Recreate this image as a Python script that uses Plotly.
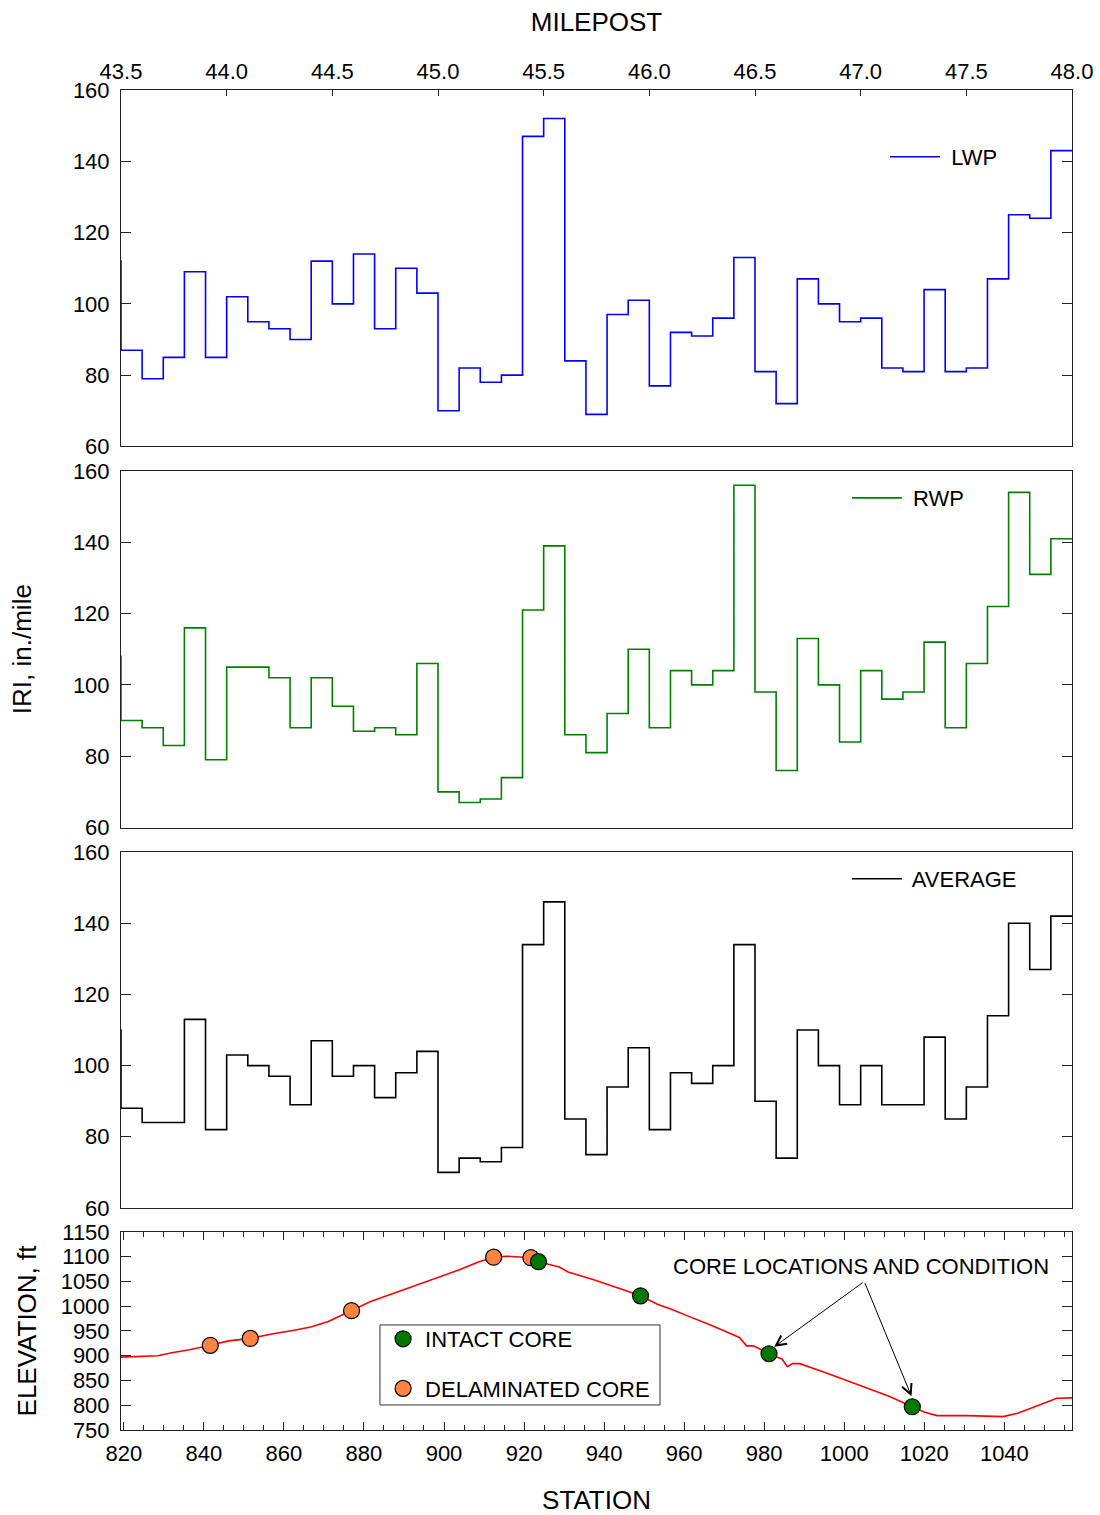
import plotly.graph_objects as go

# Start milepost of each 0.1-mile IRI section (first one is the lead-in section before MP 43.5)
SECTION_MP = [43.4, 43.5, 43.6, 43.7, 43.8, 43.9, 44.0, 44.1, 44.2, 44.3, 44.4, 44.5,
              44.6, 44.7, 44.8, 44.9, 45.0, 45.1, 45.2, 45.3, 45.4, 45.5, 45.6, 45.7,
              45.8, 45.9, 46.0, 46.1, 46.2, 46.3, 46.4, 46.5, 46.6, 46.7, 46.8, 46.9,
              47.0, 47.1, 47.2, 47.3, 47.4, 47.5, 47.6, 47.7, 47.8, 47.9]
SECTION_END_MP = 48.0

# IRI, in./mile per section
IRI_LWP = [112, 87, 79, 85, 109, 85, 102, 95, 93, 90, 112, 100, 114, 93, 110, 103, 70, 82,
           78, 80, 147, 152, 84, 69, 97, 101, 77, 92, 91, 96, 113, 81, 72, 107, 100, 95,
           96, 82, 81, 104, 81, 82, 107, 125, 124, 143]
IRI_RWP = [108, 90, 88, 83, 116, 79, 105, 105, 102, 88, 102, 94, 87, 88, 86, 106, 70, 67,
           68, 74, 121, 139, 86, 81, 92, 110, 88, 104, 100, 104, 156, 98, 76, 113, 100, 84,
           104, 96, 98, 112, 88, 106, 122, 154, 131, 141]
IRI_AVG = [110, 88, 84, 84, 113, 82, 103, 100, 97, 89, 107, 97, 100, 91, 98, 104, 70, 74,
           73, 77, 134, 146, 85, 75, 94, 105, 82, 98, 95, 100, 134, 90, 74, 110, 100, 89,
           100, 89, 89, 108, 85, 94, 114, 140, 127, 142]

# Roadway elevation profile
ELEV_STATION = [819.0, 825.0, 828.5, 832.0, 836.4, 841.6, 846.2, 851.6, 856.9, 862.2,
                866.7, 871.1, 876.9, 881.8, 887.1, 892.4, 896.0, 899.6, 904.0, 908.4,
                912.4, 915.6, 919.1, 921.7, 923.6, 927.4, 928.8, 931.0, 937.2, 943.5,
                949.1, 953.3, 956.8, 961.3, 966.6, 973.8, 975.6, 977.3, 981.2, 984.5,
                985.8, 987.1, 988.9, 995.2, 1004.1, 1011.2, 1017.0, 1020.1, 1023.2,
                1030.8, 1039.7, 1043.3, 1048.6, 1053.1, 1057.5]
ELEV_FT = [897, 899, 900, 906, 912, 921, 930, 935, 944, 951,
           958, 969, 991, 1010, 1025, 1040, 1050, 1061, 1074, 1089,
           1099, 1101, 1100, 1098, 1090, 1081, 1079, 1069, 1054, 1037,
           1021, 1004, 994, 979, 962, 937, 920, 920, 904, 893,
           878, 884, 884, 866, 839, 818, 797, 786, 779,
           779, 777, 784, 800, 814, 815]

# Core locations and condition
INTACT_STATION = [923.6, 949.1, 981.2, 1017.0]
INTACT_ELEV = [1090, 1021, 904, 797]
DELAM_STATION = [841.6, 851.6, 876.9, 912.4, 921.7]
DELAM_ELEV = [921, 935, 991, 1099, 1098]

FONT = "Liberation Sans, Arial, sans-serif"
AXIS_COLOR = "#222222"


def step_xy(values):
    xs = SECTION_MP + [SECTION_END_MP]
    ys = values + [values[-1]]
    return xs, ys


fig = go.Figure()

for vals, name, color, xa, ya, leg in [
    (IRI_LWP, "LWP", "#0000FF", "x", "y", "legend"),
    (IRI_RWP, "RWP", "#008000", "x2", "y2", "legend2"),
    (IRI_AVG, "AVERAGE", "#000000", "x3", "y3", "legend3"),
]:
    xs, ys = step_xy(vals)
    fig.add_trace(go.Scatter(
        x=xs, y=ys, mode="lines", name=" " + name,
        line=dict(color=color, width=1.6, shape="hv"),
        xaxis=xa, yaxis=ya, legend=leg, showlegend=True,
    ))

fig.add_trace(go.Scatter(
    x=ELEV_STATION, y=ELEV_FT, mode="lines", line=dict(color="#FF0000", width=1.6),
    xaxis="x4", yaxis="y4", showlegend=False,
))
fig.add_trace(go.Scatter(
    x=DELAM_STATION, y=DELAM_ELEV, mode="markers", name="DELAMINATED CORE",
    marker=dict(size=16, color="#FF8444", line=dict(color="#000000", width=1.2)),
    xaxis="x4", yaxis="y4", legend="legend4", legendgroup="delam", legendrank=2,
))
fig.add_trace(go.Scatter(
    x=INTACT_STATION, y=INTACT_ELEV, mode="markers", name="INTACT CORE",
    marker=dict(size=16, color="#007800", line=dict(color="#000000", width=1.2)),
    xaxis="x4", yaxis="y4", legend="legend4", legendgroup="intact", legendrank=1,
))

tickfont = dict(family=FONT, size=22, color="#000000")
titlefont = dict(family=FONT, size=26, color="#000000")

iri_y = dict(range=[60, 160], dtick=20, ticks="inside", ticklen=10, tickcolor=AXIS_COLOR,
             showline=True, mirror="ticks", linecolor=AXIS_COLOR, linewidth=1,
             showgrid=False, zeroline=False, tickfont=tickfont, ticklabelstandoff=6,
             automargin=False)
plain_x = dict(range=[43.5, 48.0], showticklabels=False, ticks="", showline=True,
               mirror=True, linecolor=AXIS_COLOR, linewidth=1, showgrid=False,
               zeroline=False, automargin=False)

legend_common = dict(bgcolor="rgba(0,0,0,0)", borderwidth=0,
                     font=dict(family=FONT, size=22, color="#000000"),
                     xanchor="left", yanchor="middle", itemwidth=50)

fig.update_layout(
    width=1100, height=1515,
    margin=dict(l=121, r=28, t=90, b=85, autoexpand=False),
    paper_bgcolor="white", plot_bgcolor="white",
    font=dict(family=FONT, color="#000000"),
    xaxis=dict(domain=[0, 1], anchor="y", side="top", range=[43.5, 48.0], tick0=43.5,
               dtick=0.5, tickformat=".1f", ticks="inside", ticklen=6, tickcolor=AXIS_COLOR,
               showline=True, mirror=True, linecolor=AXIS_COLOR, linewidth=1,
               showgrid=False, zeroline=False, tickfont=tickfont, ticklabelstandoff=1,
               automargin=False,
               title=dict(text="MILEPOST", font=titlefont, standoff=20)),
    yaxis=dict(domain=[0.734, 1.0], anchor="x", **iri_y),
    xaxis2=dict(domain=[0, 1], anchor="y2", **plain_x),
    yaxis2=dict(domain=[0.4496, 0.7157], anchor="x2", **iri_y),
    xaxis3=dict(domain=[0, 1], anchor="y3", **plain_x),
    yaxis3=dict(domain=[0.1657, 0.4313], anchor="x3", **iri_y),
    xaxis4=dict(domain=[0, 1], anchor="y4", range=[819.3, 1056.9], dtick=20, tick0=0,
                ticks="inside", ticklen=8, tickcolor=AXIS_COLOR,
                minor=dict(dtick=5, ticks="inside", ticklen=5, tickcolor=AXIS_COLOR),
                showline=True, mirror="ticks", linecolor=AXIS_COLOR, linewidth=1,
                showgrid=False, zeroline=False, tickfont=tickfont, ticklabelstandoff=4,
                automargin=False,
                title=dict(text="STATION", font=titlefont, standoff=26)),
    yaxis4=dict(domain=[0, 0.1478], anchor="x4", range=[750, 1150], dtick=50,
                ticks="inside", ticklen=10, tickcolor=AXIS_COLOR,
                showline=True, mirror="ticks", linecolor=AXIS_COLOR, linewidth=1,
                showgrid=False, zeroline=False, tickfont=tickfont, ticklabelstandoff=6,
                automargin=False,
                title=dict(text="ELEVATION, ft", font=titlefont, standoff=16)),
    legend=dict(x=0.8034, y=0.950, **legend_common),
    legend2=dict(x=0.7633, y=0.6955, **legend_common),
    legend3=dict(x=0.7633, y=0.4112, **legend_common),
    legend4=dict(x=0.2735, y=0.0836, xanchor="left", yanchor="top",
                 bgcolor="rgba(0,0,0,0)", borderwidth=0, tracegroupgap=18,
                 font=dict(family=FONT, size=22, color="#000000"), itemwidth=34),
    shapes=[
        # frame around the core-condition legend
        dict(type="rect", xref="paper", yref="paper", x0=0.2723, x1=0.5668,
             y0=0.0187, y1=0.0784, line=dict(color="#333333", width=1),
             fillcolor="white", layer="above"),
    ],
    annotations=[
        dict(text="IRI, in./mile", xref="paper", yref="paper", x=-0.104, y=0.5828,
             textangle=-90, showarrow=False, xanchor="center", yanchor="middle",
             font=titlefont),
        dict(text="CORE LOCATIONS AND CONDITION", xref="x4", yref="y4", x=1004.3, y=1081,
             showarrow=False, xanchor="center", yanchor="middle",
             font=dict(family=FONT, size=22, color="#000000")),
        dict(text="", xref="x4", yref="y4", x=982.5, y=918, axref="x4", ayref="y4",
             ax=1005, ay=1050, showarrow=True, arrowhead=5, arrowsize=2, arrowwidth=1,
             arrowcolor="#000000"),
        dict(text="", xref="x4", yref="y4", x=1016.8, y=818, axref="x4", ayref="y4",
             ax=1005, ay=1050, showarrow=True, arrowhead=5, arrowsize=2, arrowwidth=1,
             arrowcolor="#000000"),
    ],
)

fig.write_html("out.html")
